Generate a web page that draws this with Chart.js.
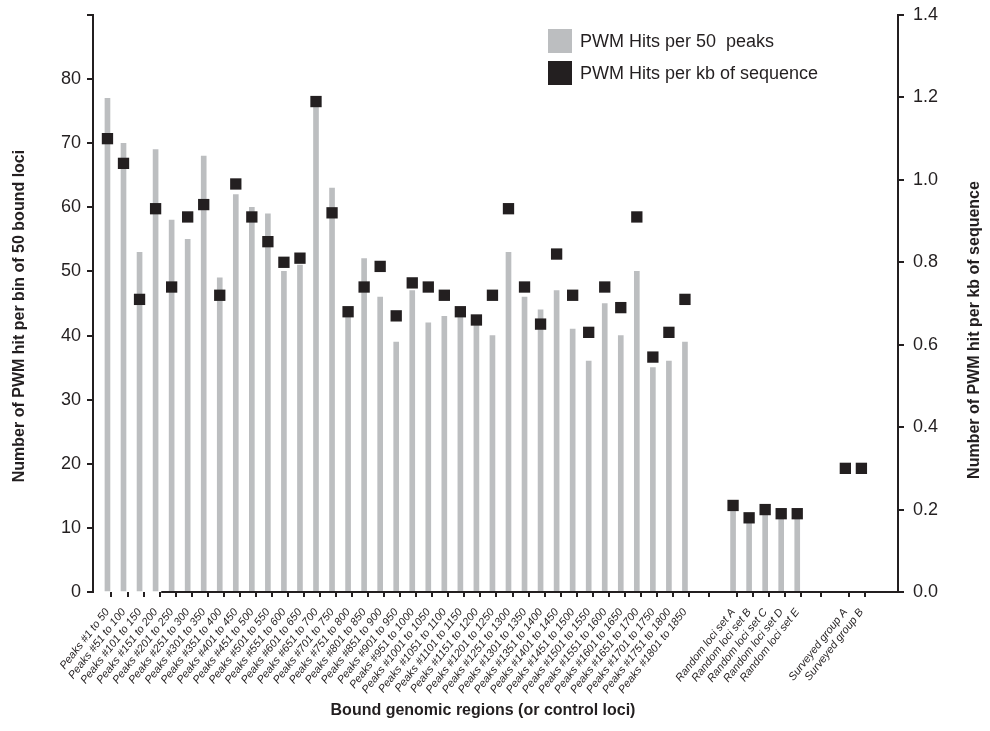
<!DOCTYPE html>
<html>
<head>
<meta charset="utf-8">
<title>PWM hits per bin</title>
<script src="https://cdn.jsdelivr.net/npm/chart.js"></script>
<style>
    body { margin: 0; background: #fff; }
    #wrap { position: relative; width: 990px; height: 731px; }
    #legend { position: absolute; left: 548px; top: 29px; font: 18px "Liberation Sans", Arial, sans-serif; color: #231f20; }
    #legend .item { height: 24px; margin-bottom: 8px; display: flex; align-items: center; white-space: pre; }
    #legend .box { width: 24px; height: 24px; margin-right: 8px; }
</style>
</head>
<body>
<div id="wrap">
    <canvas id="pwmChart" width="990" height="731"></canvas>
    <div id="legend"></div>
</div>
<script>
// 카테고리 라벨
const peakLabels = [
    'Peaks #1 to 50', 'Peaks #51 to 100', 'Peaks #101 to 150', 'Peaks #151 to 200', 'Peaks #201 to 250',
    'Peaks #251 to 300', 'Peaks #301 to 350', 'Peaks #351 to 400', 'Peaks #401 to 450', 'Peaks #451 to 500',
    'Peaks #501 to 550', 'Peaks #551 to 600', 'Peaks #601 to 650', 'Peaks #651 to 700', 'Peaks #701 to 750',
    'Peaks #751 to 800', 'Peaks #801 to 850', 'Peaks #851 to 900', 'Peaks #901 to 950', 'Peaks #951 to 1000',
    'Peaks #1001 to 1050', 'Peaks #1051 to 1100', 'Peaks #1101 to 1150', 'Peaks #1151 to 1200', 'Peaks #1201 to 1250',
    'Peaks #1251 to 1300', 'Peaks #1301 to 1350', 'Peaks #1351 to 1400', 'Peaks #1401 to 1450', 'Peaks #1451 to 1500',
    'Peaks #1501 to 1550', 'Peaks #1551 to 1600', 'Peaks #1601 to 1650', 'Peaks #1651 to 1700', 'Peaks #1701 to 1750',
    'Peaks #1751 to 1800', 'Peaks #1801 to 1850'
];
const randomLabels = ['Random loci set A', 'Random loci set B', 'Random loci set C', 'Random loci set D', 'Random loci set E'];
const surveyedLabels = ['Surveyed group A', 'Surveyed group B'];

// PWM Hits per 50 peaks (왼쪽 축)
const peakHits = [77, 70, 53, 69, 58, 55, 68, 49, 62, 60, 59, 50, 51, 77, 63, 44, 52, 46, 39, 47,
                  42, 43, 44, 42, 40, 53, 46, 44, 47, 41, 36, 45, 40, 50, 35, 36, 39];
const randomHits = [13, 12, 13, 12, 12];
const surveyedHits = [null, null];

// PWM Hits per kb of sequence (오른쪽 축)
const peakPerKb = [1.10, 1.04, 0.71, 0.93, 0.74, 0.91, 0.94, 0.72, 0.99, 0.91, 0.85, 0.80, 0.81, 1.19, 0.92,
                   0.68, 0.74, 0.79, 0.67, 0.75, 0.74, 0.72, 0.68, 0.66, 0.72, 0.93, 0.74, 0.65, 0.82, 0.72,
                   0.63, 0.74, 0.69, 0.91, 0.57, 0.63, 0.71];
const randomPerKb = [0.21, 0.18, 0.20, 0.19, 0.19];
const surveyedPerKb = [0.30, 0.30];

const INK = '#231f20';
const GREY = '#bcbec0';
const FONT = '"Liberation Sans", Arial, Helvetica, sans-serif';

// 그룹 사이에 빈 칸을 넣어서 전체 라벨 배열 만들기
const allLabels = [...peakLabels, '', '', ...randomLabels, '', '', ...surveyedLabels];
const allHits = [...peakHits, null, null, ...randomHits, null, null, ...surveyedHits];
const allPerKb = [...peakPerKb, null, null, ...randomPerKb, null, null, ...surveyedPerKb];

const barData = [];
const pointData = [];
allLabels.forEach(function(label, i) {
    if (allHits[i] !== null) barData.push({ x: i, y: allHits[i] });
    if (allPerKb[i] !== null) pointData.push({ x: i, y: allPerKb[i] });
});

// 눈금: 라벨은 칸 가운데, 눈금선은 칸 왼쪽 (그룹 끝이면 오른쪽도)
let tickValues = [];
allLabels.forEach(function(label, i) {
    if (label === '') return;
    tickValues.push(i, i - 0.5);
    if (allLabels[i + 1] === '') tickValues.push(i + 0.5);
});
tickValues = [...new Set(tickValues)].filter(v => v >= 0).sort((a, b) => a - b);

// y축 위아래 여백 없애기 (차트 영역을 그림과 맞추기 위해)
function fitY(width) {
    return function(scale) {
        scale.width = width;
        scale.paddingTop = 0;
        scale.paddingBottom = 0;
    };
}

// 축 제목과 x축 선 그리기
const extrasPlugin = {
    id: 'extras',
    afterDraw(chart) {
        const ctx = chart.ctx;
        const area = chart.chartArea;
        const xScale = chart.scales.x;
        ctx.save();
        ctx.strokeStyle = INK;
        ctx.lineWidth = 2;
        ctx.beginPath();
        ctx.moveTo(xScale.getPixelForValue(3.35), area.bottom);
        ctx.lineTo(area.right, area.bottom);
        ctx.stroke();

        ctx.fillStyle = INK;
        ctx.font = 'bold 16px ' + FONT;
        ctx.textAlign = 'center';
        ctx.textBaseline = 'middle';
        ctx.fillText('Bound genomic regions (or control loci)', 483, 711);

        ctx.save();
        ctx.translate(20, 316);
        ctx.rotate(-Math.PI / 2);
        ctx.fillText('Number of PWM hit per bin of 50 bound loci', 0, 0);
        ctx.restore();

        ctx.save();
        ctx.translate(975, 330);
        ctx.rotate(-Math.PI / 2);
        ctx.fillText('Number of PWM hit per kb of sequence', 0, 0);
        ctx.restore();
        ctx.restore();
    }
};

const ctx = document.getElementById('pwmChart').getContext('2d');
const pwmChart = new Chart(ctx, {
    type: 'bar',
    data: {
        datasets: [{
            type: 'scatter',
            label: 'PWM Hits per kb of sequence',
            data: pointData,
            yAxisID: 'y1',
            backgroundColor: INK,
            borderColor: INK,
            pointStyle: 'rect',
            pointRadius: 8,
            borderWidth: 0
        }, {
            label: 'PWM Hits per 50  peaks',
            data: barData,
            yAxisID: 'y',
            backgroundColor: GREY,
            barThickness: 5
        }]
    },
    options: {
        responsive: false,
        animation: false,
        layout: { padding: { top: 15, left: 0, right: 0, bottom: 0 } },
        plugins: {
            legend: { display: false },
            tooltip: { enabled: false }
        },
        scales: {
            x: {
                type: 'linear',
                min: -0.62,
                max: 49,
                afterBuildTicks: function(scale) {
                    scale.ticks = tickValues.map(v => ({ value: v }));
                },
                afterFit: function(scale) { scale.height = 139; },
                border: { display: false },
                grid: {
                    drawOnChartArea: false,
                    tickLength: 5,
                    lineWidth: 2,
                    color: function(c) {
                        return (c.tick && Number.isInteger(c.tick.value)) ? 'rgba(0,0,0,0)' : INK;
                    }
                },
                ticks: {
                    autoSkip: false,
                    minRotation: 52,
                    maxRotation: 52,
                    padding: 9,
                    color: INK,
                    font: { family: FONT, size: 11, style: 'italic' },
                    callback: function(value) {
                        return Number.isInteger(value) ? (allLabels[value] || '') : '';
                    }
                }
            },
            y: {
                position: 'left',
                min: 0,
                max: 90,
                afterFit: fitY(93),
                border: { color: INK, width: 2 },
                grid: { drawOnChartArea: false, tickLength: 6, lineWidth: 2, color: INK },
                ticks: {
                    stepSize: 10,
                    padding: 6,
                    color: INK,
                    font: { family: FONT, size: 18 },
                    callback: v => v === 90 ? '' : v
                }
            },
            y1: {
                position: 'right',
                min: 0,
                max: 1.4,
                afterFit: fitY(92),
                border: { color: INK, width: 2 },
                grid: { drawOnChartArea: false, tickLength: 6, lineWidth: 2, color: INK },
                ticks: {
                    stepSize: 0.2,
                    padding: 9,
                    color: INK,
                    font: { family: FONT, size: 18 },
                    callback: v => v.toFixed(1)
                }
            }
        }
    },
    plugins: [extrasPlugin]
});

// 범례 (HTML)
const legendItems = [
    { text: 'PWM Hits per 50  peaks', color: GREY },
    { text: 'PWM Hits per kb of sequence', color: INK }
];
let legendHtml = '';
legendItems.forEach(function(item) {
    legendHtml += `<div class="item"><span class="box" style="background:${item.color}"></span>${item.text}</div>`;
});
document.getElementById('legend').innerHTML = legendHtml;
</script>
</body>
</html>
